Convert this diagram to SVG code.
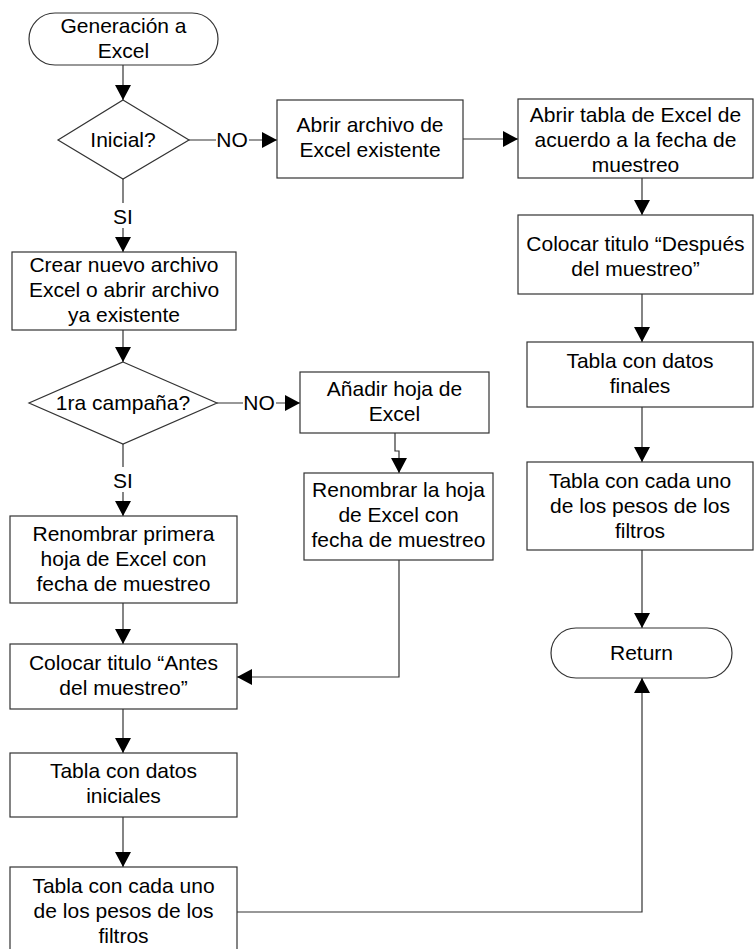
<svg xmlns="http://www.w3.org/2000/svg" width="755" height="949" viewBox="0 0 755 949">
<defs>
<marker id="arr" markerUnits="userSpaceOnUse" markerWidth="16" markerHeight="16" viewBox="0 0 16 16" refX="15" refY="8" orient="auto">
<path d="M0,0 L15,8 L0,16 Z" fill="#000"/>
</marker>
<style>
.n{fill:#fff;stroke:#333;stroke-width:1.2}
.t{font-family:"Liberation Sans",Arial,sans-serif;font-size:21px;fill:#000;text-anchor:middle}
.c{fill:none;stroke:#333;stroke-width:1.2}
.a{marker-end:url(#arr)}
</style>
</defs>
<rect width="755" height="949" fill="#fff"/>
<g id="connectors">
<line class="c a" x1="123" y1="65" x2="123" y2="100"/>
<line class="c a" x1="189" y1="140" x2="277" y2="140"/>
<line class="c a" x1="463" y1="139" x2="518" y2="139"/>
<line class="c a" x1="642" y1="178" x2="642" y2="215"/>
<line class="c a" x1="642" y1="294" x2="642" y2="342"/>
<line class="c a" x1="642" y1="407" x2="642" y2="462"/>
<line class="c a" x1="642" y1="550" x2="642" y2="628"/>
<line class="c a" x1="123" y1="179" x2="123" y2="252"/>
<line class="c a" x1="123" y1="330" x2="123" y2="362"/>
<line class="c a" x1="217" y1="403" x2="300" y2="403"/>
<line class="c a" x1="123" y1="444" x2="123" y2="516"/>
<path class="c a" d="M395,433 V451 H399 V473"/>
<path class="c a" d="M399,560 V677 H237"/>
<line class="c a" x1="123" y1="603" x2="123" y2="644"/>
<line class="c a" x1="123" y1="709" x2="123" y2="753"/>
<line class="c a" x1="123" y1="817" x2="123" y2="867"/>
<path class="c a" d="M237,912 H642 V678"/>
<rect x="216" y="128" width="33" height="24" fill="#fff"/>
<text class="t" x="232" y="147">NO</text>
<rect x="111" y="203" width="24" height="25" fill="#fff"/>
<text class="t" x="123" y="224">SI</text>
<rect x="243" y="391" width="33" height="24" fill="#fff"/>
<text class="t" x="259" y="410">NO</text>
<rect x="111" y="467" width="24" height="25" fill="#fff"/>
<text class="t" x="123" y="488">SI</text>
</g>
<g id="start">
<rect class="n" x="29" y="13" width="189" height="52" rx="26" ry="26"/>
<text class="t" x="123.5" y="33">Generación a</text>
<text class="t" x="123.5" y="58">Excel</text>
</g>
<g id="inicial">
<polygon class="n" points="123,100 189,140 123,179 58,140"/>
<text class="t" x="123" y="147">Inicial?</text>
</g>
<g id="abrir-archivo">
<rect class="n" x="277" y="100" width="186" height="78"/>
<text class="t" x="370" y="132">Abrir archivo de</text>
<text class="t" x="370" y="157">Excel existente</text>
</g>
<g id="abrir-tabla">
<rect class="n" x="518" y="99" width="235" height="79"/>
<text class="t" x="635.5" y="122">Abrir tabla de Excel de</text>
<text class="t" x="635.5" y="147">acuerdo a la fecha de</text>
<text class="t" x="635.5" y="172">muestreo</text>
</g>
<g id="titulo-despues">
<rect class="n" x="518" y="215" width="235" height="79"/>
<text class="t" x="635.5" y="251">Colocar titulo “Después</text>
<text class="t" x="635.5" y="276">del muestreo”</text>
</g>
<g id="datos-finales">
<rect class="n" x="527" y="342" width="226" height="65"/>
<text class="t" x="640" y="368">Tabla con datos</text>
<text class="t" x="640" y="393">finales</text>
</g>
<g id="pesos-finales">
<rect class="n" x="527" y="462" width="226" height="88"/>
<text class="t" x="640" y="488">Tabla con cada uno</text>
<text class="t" x="640" y="513">de los pesos de los</text>
<text class="t" x="640" y="538">filtros</text>
</g>
<g id="return">
<rect class="n" x="551" y="628" width="181" height="50" rx="25" ry="25"/>
<text class="t" x="641.5" y="660">Return</text>
</g>
<g id="crear">
<rect class="n" x="12" y="252" width="224" height="78"/>
<text class="t" x="124" y="272">Crear nuevo archivo</text>
<text class="t" x="124" y="297">Excel o abrir archivo</text>
<text class="t" x="124" y="322">ya existente</text>
</g>
<g id="campana">
<polygon class="n" points="123,362 217,403 123,444 29,403"/>
<text class="t" x="123" y="410">1ra campaña?</text>
</g>
<g id="anadir">
<rect class="n" x="300" y="372" width="189" height="61"/>
<text class="t" x="394.5" y="396">Añadir hoja de</text>
<text class="t" x="394.5" y="421">Excel</text>
</g>
<g id="renombrar-hoja">
<rect class="n" x="304" y="473" width="189" height="87"/>
<text class="t" x="398.5" y="497">Renombrar la hoja</text>
<text class="t" x="398.5" y="522">de Excel con</text>
<text class="t" x="398.5" y="547">fecha de muestreo</text>
</g>
<g id="renombrar-primera">
<rect class="n" x="10" y="516" width="227" height="87"/>
<text class="t" x="123.5" y="541">Renombrar primera</text>
<text class="t" x="123.5" y="566">hoja de Excel con</text>
<text class="t" x="123.5" y="591">fecha de muestreo</text>
</g>
<g id="titulo-antes">
<rect class="n" x="10" y="644" width="227" height="65"/>
<text class="t" x="123.5" y="670">Colocar titulo “Antes</text>
<text class="t" x="123.5" y="695">del muestreo”</text>
</g>
<g id="datos-iniciales">
<rect class="n" x="10" y="753" width="227" height="64"/>
<text class="t" x="123.5" y="778">Tabla con datos</text>
<text class="t" x="123.5" y="803">iniciales</text>
</g>
<g id="pesos-iniciales">
<rect class="n" x="10" y="867" width="227" height="90"/>
<text class="t" x="123.5" y="893">Tabla con cada uno</text>
<text class="t" x="123.5" y="918">de los pesos de los</text>
<text class="t" x="123.5" y="943">filtros</text>
</g>
</svg>
